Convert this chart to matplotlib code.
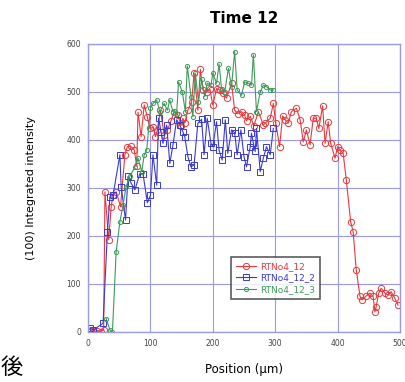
import numpy as np
import matplotlib
matplotlib.use("Agg")
import matplotlib.pyplot as plt

# RTNo4_12 (red)
red_x = [5, 10, 15, 20, 25, 27, 33, 37, 40, 45, 52, 59, 63, 68, 74, 78, 80, 85, 90, 95,
         99, 104, 108, 111, 116, 122, 127, 133, 138, 144, 149, 152, 155, 160, 166, 170, 176, 180, 184, 190,
         195, 200, 206, 211, 216, 222, 230, 235, 240, 246, 251, 254, 260, 266, 273, 281, 284, 292, 297, 301,
         307, 312, 316, 321, 326, 334, 340, 345, 350, 356, 361, 366, 370, 376, 380, 385, 389, 396, 400, 404,
         409, 414, 421, 425, 430, 436, 440, 445, 452, 457, 460, 462, 466, 470, 476, 481, 486, 492, 497]
red_y = [2, 0, 3, 0, 5, 292, 192, 261, 285, 292, 261, 369, 386, 387, 379, 345, 458, 407, 473, 448,
         424, 426, 407, 420, 462, 410, 420, 440, 459, 452, 430, 445, 435, 462, 480, 539, 462, 547, 504, 500,
         507, 473, 507, 504, 497, 487, 518, 462, 455, 459, 452, 440, 449, 430, 459, 431, 435, 445, 476, 435,
         386, 450, 442, 435, 459, 466, 442, 396, 421, 390, 445, 445, 424, 471, 393, 438, 393, 362, 386, 379,
         372, 317, 230, 209, 129, 74, 67, 74, 81, 74, 42, 53, 81, 91, 81, 77, 84, 70, 56]

# RTNo4_12_2 (blue)
blue_x = [3, 8, 24, 31, 35, 40, 51, 53, 60, 64, 69, 75, 83, 88, 95, 100, 104, 110, 113, 117,
          120, 126, 131, 136, 142, 147, 152, 155, 160, 165, 170, 176, 182, 186, 191, 197, 200, 206, 210, 215,
          220, 224, 230, 235, 239, 245, 250, 254, 260, 262, 265, 268, 270, 276, 281, 286, 292, 297]
blue_y = [8, 4, 18, 209, 282, 285, 369, 303, 233, 324, 310, 296, 330, 330, 269, 285, 369, 306, 445, 417,
          393, 431, 351, 389, 442, 431, 417, 407, 365, 344, 348, 435, 443, 369, 445, 393, 386, 438, 379, 358,
          442, 372, 421, 415, 369, 421, 365, 344, 386, 414, 393, 376, 424, 334, 362, 386, 369, 424]

# RTNo4_12_3 (green)
green_x = [29, 35, 39, 45, 51, 56, 61, 67, 75, 80, 86, 90, 94, 100, 104, 110, 115, 122, 127, 131,
           136, 142, 145, 151, 156, 159, 165, 168, 172, 177, 182, 187, 191, 197, 200, 206, 210, 214, 219, 225,
           230, 235, 239, 246, 251, 257, 262, 265, 270, 276, 281, 286, 292, 297]
green_y = [28, 4, 0, 167, 230, 264, 303, 324, 344, 362, 334, 369, 379, 466, 476, 483, 459, 476, 462, 483,
           459, 455, 521, 500, 459, 554, 490, 448, 539, 480, 526, 490, 518, 514, 539, 518, 558, 507, 500, 549,
           511, 584, 504, 493, 521, 518, 514, 577, 459, 500, 514, 511, 504, 504]

grid_c = "#9a9ae6"

fig = plt.figure(figsize=(4.06, 3.82), dpi=100)
ax = fig.add_axes([0.217, 0.131, 0.768, 0.754])

ax.plot(red_x, red_y, color="#e8383c", lw=0.8, marker="o", ms=4.5, mfc="none", mew=0.7, label="RTNo4_12")
ax.plot(blue_x, blue_y, color="#3a3ad0", lw=0.8, marker="s", ms=4, mfc="none", mew=0.7, label="RTNo4_12_2")
ax.plot(green_x, green_y, color="#3c9a5a", lw=0.8, marker="o", ms=3, mfc="none", mew=0.7, label="RTNo4_12_3")

ax.set_xlim(0, 500)
ax.set_ylim(0, 600)
ax.set_xticks(range(0, 501, 100))
ax.set_yticks(range(0, 601, 100))
ax.grid(True, color=grid_c, lw=0.8)
for s in ax.spines.values():
    s.set_color(grid_c)
    s.set_linewidth(1)
ax.tick_params(labelsize=5.5, length=0, colors="#444444", pad=5)

ax.set_xlabel("Position (μm)", fontsize=8.5, labelpad=11)
ax.set_ylabel("(100) Integrated intensity", fontsize=8, labelpad=22)
ax.set_title("Time 12", fontsize=11, fontweight="bold", pad=15)

leg = ax.legend(loc="lower left", bbox_to_anchor=(0.445, 0.1), fontsize=6.5, frameon=True,
                fancybox=False, edgecolor="#333333", handlelength=2.2, borderpad=0.5,
                labelspacing=0.3, handletextpad=0.5)
leg.get_frame().set_linewidth(1.2)
for t, c in zip(leg.get_texts(), ["#e8383c", "#3a3ad0", "#3c9a5a"]):
    t.set_color(c)

fig.text(0.002, 0.02, "後", fontsize=16, family=["Noto Sans CJK JP", "DejaVu Sans"])

fig.savefig("out.png", dpi=100)
